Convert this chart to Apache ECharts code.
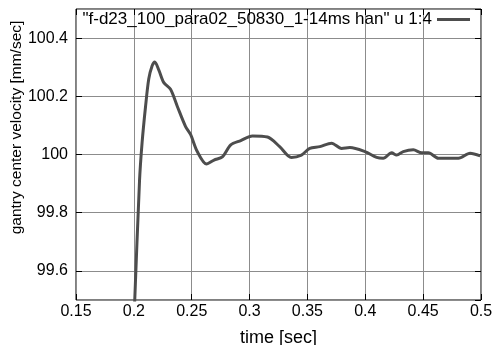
<!DOCTYPE html>
<html>
<head>
<meta charset="utf-8">
<script src="https://cdn.jsdelivr.net/npm/echarts@6/dist/echarts.min.js"></script>
<style>
  html, body { margin: 0; padding: 0; background: #fff; }
  #chart { width: 500px; height: 345px; }
</style>
</head>
<body>
<div id="chart"></div>
<script>
// time [sec] and velocity [mm/sec]
const times = [0.2, 0.2049, 0.2071, 0.2101, 0.2129, 0.2158, 0.2181, 0.2216, 0.2259, 0.2317,
  0.2375, 0.2447, 0.2491, 0.2548, 0.2629, 0.2693, 0.2765, 0.2837, 0.2924, 0.3025,
  0.3155, 0.3260, 0.3361, 0.3448, 0.3520, 0.3607, 0.3708, 0.3795, 0.3867, 0.3997,
  0.4098, 0.4155, 0.4228, 0.4271, 0.4328, 0.4415, 0.4488, 0.4545, 0.4632, 0.4733,
  0.4805, 0.4906, 0.4993];
const velocity = [99.42, 99.91, 100.04, 100.165, 100.26, 100.305, 100.318, 100.29, 100.247, 100.224,
  100.166, 100.096, 100.068, 100.01, 99.967, 99.981, 99.992, 100.033, 100.048, 100.064,
  100.06, 100.027, 99.99, 99.998, 100.021, 100.027, 100.039, 100.021, 100.024, 100.01,
  99.99, 99.987, 100.006, 99.998, 100.01, 100.016, 100.006, 100.006, 99.987, 99.987,
  99.987, 100.004, 99.995];
const seriesName = '"f-d23_100_para02_50830_1-14ms han" u 1:4';

const chart = echarts.init(document.getElementById('chart'));
const font = 'Liberation Sans, Arial, sans-serif';

const tickStyle = { show: true, inside: true, length: 6, lineStyle: { color: '#000', width: 1 } };
const gridLine = { show: true, lineStyle: { color: '#8c8c8c', width: 1 } };

chart.setOption({
  animation: false,
  textStyle: { fontFamily: font },
  grid: {
    left: 76, right: 19, top: 9, bottom: 45,
    outerBoundsMode: 'none',
    containLabel: false,
    show: true, borderColor: '#000', borderWidth: 1
  },
  legend: {
    right: 30,
    top: 11,
    padding: 0,
    align: 'right',
    icon: 'rect',
    itemWidth: 33,
    itemHeight: 3,
    textStyle: { fontSize: 17, color: '#000', fontFamily: font }
  },
  xAxis: [{
    type: 'value',
    min: 0.15,
    max: 0.5,
    interval: 0.05,
    name: 'time [sec]',
    nameLocation: 'middle',
    nameGap: 29,
    nameMoveOverlap: false,
    nameTextStyle: { fontSize: 18, color: '#000' },
    axisLine: { show: false },
    axisTick: tickStyle,
    axisLabel: { fontSize: 16, color: '#000', margin: 4 },
    splitLine: gridLine
  }, {
    type: 'value',
    position: 'top',
    min: 0.15,
    max: 0.5,
    interval: 0.05,
    axisLine: { show: false },
    axisTick: tickStyle,
    axisLabel: { show: false },
    splitLine: { show: false }
  }],
  yAxis: [{
    type: 'value',
    min: 99.5,
    max: 100.5,
    splitNumber: 5,
    name: 'gantry center velocity [mm/sec]',
    nameLocation: 'middle',
    nameGap: 51,
    nameMoveOverlap: false,
    nameTextStyle: { fontSize: 15.5, color: '#000', padding: [0, 0, 0, 54] },
    axisLine: { show: false },
    axisTick: tickStyle,
    axisLabel: { fontSize: 16, color: '#000', margin: 8, showMinLabel: false, showMaxLabel: false },
    splitLine: gridLine
  }, {
    type: 'value',
    position: 'right',
    min: 99.5,
    max: 100.5,
    splitNumber: 5,
    axisLine: { show: false },
    axisTick: tickStyle,
    axisLabel: { show: false },
    splitLine: { show: false }
  }],
  series: [{
    name: seriesName,
    type: 'line',
    data: times.map((t, i) => [t, velocity[i]]),
    showSymbol: false,
    smooth: 0.3,
    clip: true,
    lineStyle: { color: '#4d4d4d', width: 3 },
    itemStyle: { color: '#4d4d4d' }
  }]
});
</script>
</body>
</html>
